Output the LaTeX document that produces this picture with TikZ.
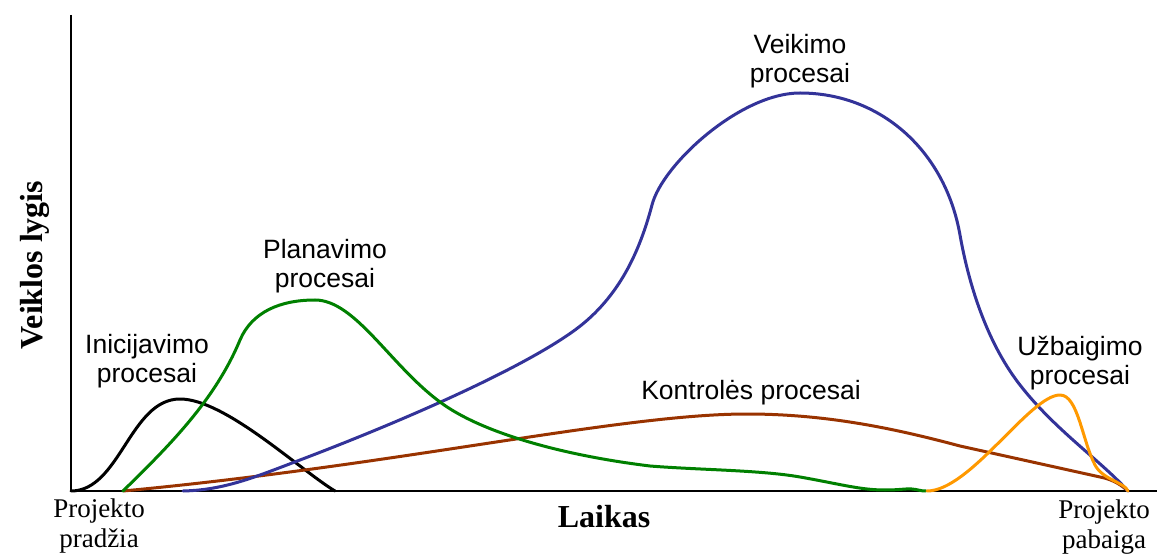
\documentclass[tikz,border=0pt]{standalone}
\usepackage{fontspec}
\setmainfont{Liberation Serif}
\newfontfamily\labelsans{Liberation Sans}
\definecolor{cinit}{RGB}{0,0,0}
\definecolor{cplan}{RGB}{0,128,0}
\definecolor{cexec}{RGB}{51,51,153}
\definecolor{cctrl}{RGB}{153,51,0}
\definecolor{cclose}{RGB}{255,153,0}
\begin{document}
\begin{tikzpicture}[x=1bp,y=-1bp,
  axis/.style={line width=2bp,black},
  curve/.style={line width=3bp,line cap=round,line join=round},
  proc/.style={font=\labelsans\fontsize{26.5bp}{29.5bp}\selectfont,align=center,anchor=base,inner sep=0pt},
  ends/.style={font=\fontsize{27bp}{30bp}\selectfont,align=center,anchor=base,inner sep=0pt},
  axlabel/.style={font=\bfseries\fontsize{32bp}{36bp}\selectfont,anchor=base,inner sep=0pt}]
\useasboundingbox (0,0) rectangle (1157,554);

% axes
\coordinate (O) at (71,491);
\coordinate (ytop) at (71,15);
\coordinate (xend) at (1157,491);
\draw[axis] (ytop) -- (O) -- (xend);

% initiating processes
\draw[curve,cinit] (71,491) .. controls (120,491) and (130,399) .. (180,399)
  .. controls (225,399) and (300,470) .. (335,491);

% monitoring and controlling processes
\draw[curve,cctrl] (123,491) .. controls (400,465) and (620,414) .. (747,414)
  .. controls (830,414) and (900,430) .. (960,446)
  -- (1100,477) .. controls (1115,480) and (1122,486) .. (1128,491);

% executing processes
\draw[curve,cexec] (183,491) .. controls (225,490) and (255,477) .. (300,460)
  .. controls (400,422) and (520,370) .. (575,330)
  .. controls (620,297) and (640,250) .. (652,205)
  .. controls (662,165) and (740,93) .. (800,93)
  .. controls (880,93) and (945,150) .. (960,235)
  .. controls (968,280) and (985,340) .. (1020,385)
  .. controls (1055,430) and (1100,460) .. (1128,491);

% planning processes
\draw[curve,cplan] (123,491) .. controls (170,445) and (215,400) .. (240,340)
  .. controls (252,312) and (280,300) .. (315,300)
  .. controls (355,300) and (390,365) .. (440,402)
  .. controls (480,432) and (560,455) .. (650,466)
  .. controls (700,470) and (760,470) .. (800,477)
  .. controls (840,484) and (860,490) .. (885,490)
  .. controls (900,490) and (905,488.5) .. (912,489)
  .. controls (918,489.5) and (920,491) .. (926,491);

% closing processes
\draw[curve,cclose] (927,491) .. controls (970,491) and (1030,395) .. (1060,395)
  .. controls (1078,395) and (1082,440) .. (1095,465)
  .. controls (1103,480) and (1124,482) .. (1128,491);

% labels (anchored at the baseline of the last line)
\node[proc] (lInit) at (147,383) {Inicijavimo\\procesai};
\node[proc] (lPlan) at (325,288) {Planavimo\\procesai};
\node[proc] (lExec) at (800,83) {Veikimo\\procesai};
\node[proc] (lCtrl) at (751,399) {Kontrolės procesai};
\node[proc] (lClose) at (1080,385) {Užbaigimo\\procesai};
\node[ends] (start) at (99,547) {Projekto\\pradžia};
\node[ends] (finish) at (1104,548) {Projekto\\pabaiga};
\node[axlabel] (xlab) at (604,527) {Laikas};
\node[axlabel,rotate=90] (ylab) at (42,265) {Veiklos lygis};
\end{tikzpicture}
\end{document}
